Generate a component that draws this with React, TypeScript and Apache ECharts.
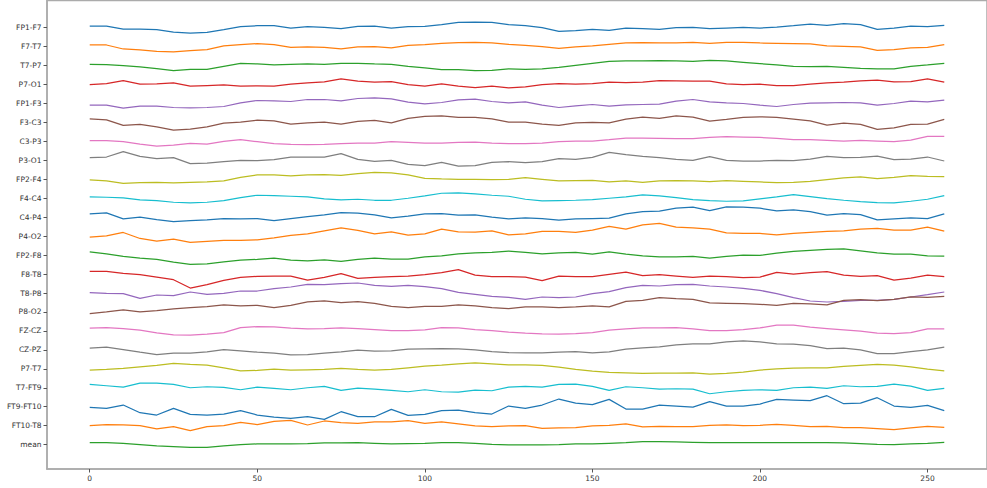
import React, { useEffect, useRef } from "react";
import * as echarts from "echarts";

// Sample index of every stored value (one value every 5 samples, plus the last sample)
const SAMPLES = [
  0, 5, 10, 15, 20, 25, 30, 35, 40, 45, 50, 55, 60, 65, 70, 75, 80, 85, 90, 95, 100, 105, 110, 115, 120, 125,
  130, 135, 140, 145, 150, 155, 160, 165, 170, 175, 180, 185, 190, 195, 200, 205, 210, 215, 220, 225, 230, 235,
  240, 245, 250, 255,
];

const CHANNEL_NAMES = [
  "FP1-F7", "F7-T7", "T7-P7", "P7-O1", "FP1-F3", "F3-C3", "C3-P3", "P3-O1", "FP2-F4", "F4-C4", "C4-P4", "P4-O2",
  "FP2-F8", "F8-T8", "T8-P8", "P8-O2", "FZ-CZ", "CZ-PZ", "P7-T7", "T7-FT9", "FT9-FT10", "FT10-T8", "mean",
];

// Amplitudes per channel (positive = up)
const fp1F7 = [5, 5, -4, -4, -6, -13, -16, -14, -6, 3, 6, 6, -1, 3, 1, -3, 4, 5, -1, 3, 4, 9, 16, 17, 16, 9, 6, 0, -11, -9, -5, -8, -1, -3, -5, 0, 1, -3, -1, 1, -1, 2, 6, 11, 7, 12, 9, -5, -1, 5, 3, 7];
const f7T7 = [5, 5, -7, -10, -14, -16, -12, -9, 2, 6, 9, 6, -2, -1, -2, -7, -1, 0, -4, 4, 6, 10, 12, 13, 11, 7, 4, 0, -5, -1, 2, 7, 11, 12, 11, 11, 13, 10, 13, 13, 11, 10, 9, 8, 2, 1, -1, -11, -9, -4, -2, 6];
const t7P7 = [4, 3, 0, -4, -9, -15, -11, -11, -2, 7, 5, 2, 4, 5, 4, 7, 7, 5, 4, -2, -7, -12, -12, -15, -14, -10, -11, -10, -5, 1, 7, 13, 14, 14, 15, 14, 13, 16, 14, 10, 6, 2, -2, -3, -2, -5, -8, -10, -10, -2, 2, 7];
const p7O1 = [0, 3, 12, 1, 2, 5, -5, -3, -1, -5, -4, -5, 1, 5, 8, 17, 10, 7, 9, 0, -5, 2, -5, -9, -5, -10, -7, 0, 3, 1, 3, 7, 6, 7, 12, 11, 10, 10, 2, 0, 1, -3, -3, 1, 5, 7, 11, 13, 8, 9, 17, 7];
const fp1F3 = [-5, -5, -14, -8, -8, -12, -13, -12, -9, 2, 9, 8, 6, 12, 12, 8, 15, 17, 14, 4, -1, 3, 11, 13, 6, 2, 5, -5, -12, -7, -3, -8, -4, -3, -2, 7, 12, 5, 2, 0, -5, -9, -3, 1, 2, 3, 2, -5, 0, 7, 5, 10];
const f3C3 = [11, 8, -9, -6, -13, -23, -20, -13, -2, 1, 7, 5, -5, -1, 1, -5, 3, 6, -1, 12, 18, 20, 15, 15, 11, 1, 1, -5, -9, -1, 0, -1, 10, 16, 12, 20, 16, 4, 9, 15, 17, 15, 10, 5, -8, -2, -6, -21, -16, -6, -5, 9];
const c3P3 = [2, 2, -1, -8, -14, -11, -6, -8, 0, 5, -1, -7, -9, -10, -9, -7, -5, -5, -1, -3, -5, -5, -3, -2, -5, -7, -7, -5, -1, 1, 1, 5, 10, 10, 9, 8, 8, 12, 14, 13, 12, 9, 5, 5, 3, 1, 3, 1, -1, 4, 15, 15];
const p3O1 = [8, 10, 26, 12, 5, 8, -10, -8, -4, 0, -1, 2, 10, 10, 10, 20, 3, -3, 0, -12, -16, -6, -17, -16, -6, -4, -7, -4, 5, 3, 9, 24, 17, 12, 8, 3, 0, 11, 0, -2, -2, 0, -1, 4, 12, 8, 9, 13, 2, 4, 10, -2];
const fp2F4 = [-2, -5, -12, -10, -9, -11, -9, -8, -5, 6, 13, 13, 10, 13, 14, 12, 17, 21, 19, 13, 3, 1, 0, 0, -1, 0, 5, 0, -5, -4, -3, -8, -5, -9, -5, -4, -5, -7, -4, -6, -8, -10, -9, -6, -1, 4, 7, 2, 6, 11, 9, 8];
const f4C4 = [4, 3, 1, -5, -7, -12, -14, -12, -7, 2, 9, 8, 6, 4, -2, -5, -3, -6, -6, 0, 7, 15, 16, 13, 9, 6, -3, -8, -7, -6, -4, 0, 4, 10, 7, 2, -4, -7, -9, -8, -2, 4, 11, 5, -1, -6, -10, -13, -14, -9, -3, 8];
const c4P4 = [10, 13, -5, 0, -7, -13, -10, -8, -4, -5, -4, -10, -4, 2, 7, 14, 12, 7, -2, 3, 10, 11, 6, 7, 0, -5, -2, -4, -9, -5, -4, -3, 10, 17, 18, 27, 30, 20, 31, 30, 27, 19, 22, 17, 6, 11, 8, -8, -5, -2, -4, 10];
const p4O2 = [-3, 1, 11, -7, -15, -9, -19, -16, -13, -13, -11, -5, 2, 7, 16, 25, 17, 7, 13, 3, 7, 21, 13, 12, 16, 4, 7, 14, 14, 11, 18, 29, 21, 34, 38, 27, 25, 21, 10, 8, 8, 4, 8, 11, 14, 16, 21, 23, 18, 18, 27, 15];
const fp2F8 = [10, 4, -4, -9, -13, -21, -28, -26, -20, -15, -13, -9, -15, -17, -14, -19, -13, -9, -12, -12, -5, -2, 4, 7, 8, 12, 8, 4, 7, 8, 3, 10, 3, -2, -5, -5, -4, -9, -4, 0, -1, 6, 11, 14, 17, 19, 13, 7, 3, 3, -2, -3];
const f8T8 = [8, 8, 2, -2, -9, -17, -42, -32, -19, -10, -7, -6, -6, -18, -10, 1, -13, -10, -8, -6, -2, 4, 13, -3, -8, -8, -9, -20, -6, -8, -8, -1, 6, -5, -2, -6, -10, -6, -8, -11, -9, 5, 0, 4, 7, -3, -7, -5, -18, -12, -3, -8];
const t8P8 = [1, -1, -2, -16, -6, -8, 3, -4, -1, 6, 6, 13, 18, 26, 25, 28, 30, 23, 20, 23, 19, 13, 2, -4, -10, -13, -19, -12, -14, -12, -2, 4, 16, 23, 21, 25, 26, 21, 18, 14, 8, -2, -14, -24, -27, -25, -22, -22, -19, -12, -5, 3];
const p8O2 = [-5, 0, 6, 0, 4, 9, 13, 16, 21, 18, 20, 13, 20, 30, 33, 28, 31, 26, 17, 13, 17, 17, 21, 18, 13, 10, 15, 15, 13, 15, 18, 15, 32, 35, 43, 40, 38, 27, 26, 25, 23, 20, 26, 24, 21, 35, 37, 34, 38, 45, 44, 47];
const fzCz = [8, 10, 7, 2, -6, -12, -13, -10, -5, 10, 13, 12, 8, 6, 7, 9, 7, 4, 1, 1, 3, 10, 9, 4, 1, -4, -7, -9, -10, -8, -5, 2, 6, 9, 9, 10, 6, 1, 1, 4, 9, 17, 17, 11, 7, 3, -1, -7, -8, -5, 6, 6];
const czPz = [5, 8, 1, -7, -14, -10, -10, -6, 1, -3, -7, -10, -15, -14, -10, -6, -1, -4, -3, 2, 3, 4, 3, 0, -5, -8, -9, -9, -7, -5, -9, -6, 2, 6, 9, 15, 18, 18, 24, 27, 24, 18, 17, 13, 4, 5, 0, -11, -11, -5, 0, 8];
const p7T7 = [-4, -2, 1, 6, 10, 16, 13, 11, 3, -6, -5, -1, -4, -3, -2, 1, -2, -4, -2, 3, 8, 11, 15, 18, 15, 12, 12, 10, 5, -2, -7, -11, -12, -14, -13, -13, -12, -16, -14, -10, -4, 0, 2, 3, 3, 7, 10, 13, 11, 6, -1, -6];
const t7Ft9 = [10, 6, 2, 14, 14, 10, 0, 3, 1, -6, 2, -2, -6, 0, 4, -8, -1, -4, -8, -12, -6, -12, -13, -7, -9, 2, 4, 2, 10, 11, 4, -8, 3, 0, -4, -3, -4, -18, -12, -8, -6, -8, 0, 2, -2, 6, 3, 4, 11, 5, -8, -2];
const ft9Ft10 = [-2, -5, 5, -18, -25, -5, -23, -25, -22, -12, -25, -31, -35, -30, -38, -15, -30, -30, -8, -26, -23, -12, -10, -18, -22, 2, -5, 5, 23, 11, 6, 22, -7, -7, 5, 2, -1, 15, 2, 2, 8, 22, 20, 18, 33, 9, 11, 27, 2, -2, 4, -12];
const ft10T8 = [0, 3, 2, 0, -10, -3, -15, -3, 0, 10, 3, 13, 16, 2, 14, 9, 7, 11, 11, 15, 7, 11, 5, -1, -3, -1, 0, -8, -7, -6, -1, 1, 5, -4, -2, -3, -3, 1, 2, 0, 1, 4, 1, -3, -2, -6, -6, -9, -12, -7, -2, -5];
const meanTrace = [6, 6, 4, 0, -4, -6, -8, -8, -4, 0, 2, 2, 2, 3, 5, 5, 6, 4, 2, 3, 4, 6, 6, 4, 1, -1, -1, -1, 0, 2, 2, 4, 6, 9, 9, 8, 7, 6, 6, 6, 6, 6, 6, 6, 6, 5, 3, 1, 0, 2, 4, 7];

const TRACES = [
  fp1F7, f7T7, t7P7, p7O1, fp1F3, f3C3, c3P3, p3O1, fp2F4, f4C4, c4P4, p4O2,
  fp2F8, f8T8, t8P8, p8O2, fzCz, czPz, p7T7, t7Ft9, ft9Ft10, ft10T8, meanTrace,
];

const X_TICKS = [0, 50, 100, 150, 200, 250];

const PALETTE = [
  "#1f77b4", "#ff7f0e", "#2ca02c", "#d62728", "#9467bd",
  "#8c564b", "#e377c2", "#7f7f7f", "#bcbd22", "#17becf",
];

// Vertical distance between neighbouring channel baselines
const SPACING = 56.85;
const Y_MAX = 81.6;
const Y_MIN = -1323.9;

const SPINE = "#ababab";
const TEXT = "#333333";
const FONT = "DejaVu Sans";

export default function App() {
  const ref = useRef<HTMLDivElement>(null);

  useEffect(() => {
    if (!ref.current) return;
    const chart = echarts.init(ref.current, null, { renderer: "svg" });
    const baselines = CHANNEL_NAMES.map((_, i) => -i * SPACING);

    const series = TRACES.map((vals, i) => ({
      type: "line",
      name: CHANNEL_NAMES[i],
      showSymbol: false,
      symbol: "none",
      silent: true,
      data: SAMPLES.map((t, k) => [t, vals[k] + baselines[i]]),
      lineStyle: { color: PALETTE[i % PALETTE.length], width: 1.25 },
      itemStyle: { color: PALETTE[i % PALETTE.length] },
    }));

    chart.setOption({
      animation: false,
      grid: {
        left: 47,
        top: 0.5,
        width: 946.7,
        height: 468.5,
        show: true,
        borderColor: SPINE,
        borderWidth: 1.5,
        backgroundColor: "transparent",
      },
      xAxis: {
        type: "value",
        min: -12.75,
        max: 267.75,
        axisLine: { show: true, onZero: false, lineStyle: { color: SPINE, width: 1.5 } },
        axisTick: { show: true, customValues: X_TICKS, length: 3.5, lineStyle: { color: "#555", width: 1 } },
        axisLabel: { customValues: X_TICKS, margin: 5, fontSize: 7.5, color: TEXT, fontFamily: FONT },
        splitLine: { show: false },
      },
      yAxis: {
        type: "value",
        min: Y_MIN,
        max: Y_MAX,
        axisLine: { show: true, onZero: false, lineStyle: { color: SPINE, width: 1.5 } },
        axisTick: { show: true, customValues: baselines, length: 3.5, lineStyle: { color: "#555", width: 1 } },
        axisLabel: {
          customValues: baselines,
          margin: 5.5,
          fontSize: 7.5,
          color: TEXT,
          fontFamily: FONT,
          formatter: (v: number) => CHANNEL_NAMES[Math.round(-v / SPACING)] ?? "",
        },
        splitLine: { show: false },
      },
      series,
    });

    return () => chart.dispose();
  }, []);

  return (
    <div
      ref={ref}
      style={{ position: "absolute", left: 0, top: 0, width: 987, height: 488, background: "#fff" }}
    />
  );
}
